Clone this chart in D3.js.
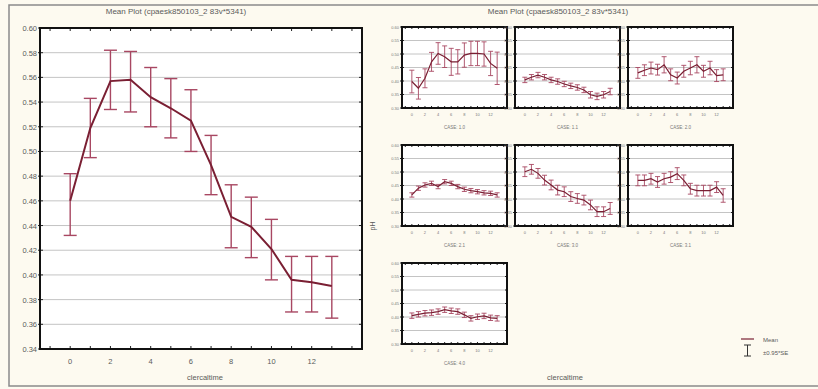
<!DOCTYPE html>
<html>
<head>
<meta charset="utf-8">
<script src="https://cdn.jsdelivr.net/npm/d3@7"></script>
<style>
  body { margin: 0; background: #fdfaf0; }
  svg { display: block; font-family: Arial, "Liberation Sans", sans-serif; }
</style>
</head>
<body>
<svg id="chart" width="818" height="389"></svg>
<script>
// time steps (x categories)
const steps = [0, 1, 2, 3, 4, 5, 6, 7, 8, 9, 10, 11, 12, 13];
const xTickLabels = [0, 2, 4, 6, 8, 10, 12];
const mainYTicks = [0.34, 0.36, 0.38, 0.40, 0.42, 0.44, 0.46, 0.48, 0.50, 0.52, 0.54, 0.56, 0.58, 0.60];

// pooled mean plot
const mainMean = [0.460, 0.519, 0.557, 0.558, 0.544, 0.535, 0.525, 0.489, 0.447, 0.439, 0.421, 0.396, 0.394, 0.391];
const mainLow  = [0.432, 0.495, 0.534, 0.532, 0.520, 0.511, 0.500, 0.465, 0.422, 0.414, 0.396, 0.370, 0.370, 0.365];
const mainHigh = [0.482, 0.543, 0.582, 0.581, 0.568, 0.559, 0.550, 0.513, 0.473, 0.463, 0.445, 0.415, 0.415, 0.415];

// per-case panels
const panelLabels = ["CASE: 1.0", "CASE: 1.1", "CASE: 2.0", "CASE: 2.1", "CASE: 3.0", "CASE: 3.1", "CASE: 4.0"];
const panelYTicks = [0.30, 0.35, 0.40, 0.45, 0.50, 0.55, 0.60];
const case1Mean = [0.398, 0.373, 0.410, 0.471, 0.502, 0.490, 0.471, 0.471, 0.496, 0.502, 0.502, 0.500, 0.465, 0.447];
const case1Err  = [0.042, 0.040, 0.035, 0.035, 0.040, 0.040, 0.050, 0.045, 0.045, 0.045, 0.045, 0.045, 0.045, 0.060];
const case2Mean = [0.404, 0.414, 0.422, 0.414, 0.404, 0.398, 0.389, 0.382, 0.376, 0.367, 0.349, 0.343, 0.349, 0.361];
const case2Err  = [0.010, 0.010, 0.010, 0.010, 0.010, 0.010, 0.010, 0.010, 0.010, 0.010, 0.012, 0.012, 0.012, 0.012];
const case3Mean = [0.430, 0.440, 0.448, 0.442, 0.460, 0.423, 0.411, 0.436, 0.448, 0.460, 0.436, 0.448, 0.420, 0.423];
const case3Err  = [0.020, 0.020, 0.022, 0.020, 0.030, 0.022, 0.022, 0.022, 0.025, 0.030, 0.022, 0.025, 0.022, 0.022];
const case4Mean = [0.415, 0.440, 0.452, 0.458, 0.446, 0.464, 0.458, 0.446, 0.436, 0.431, 0.427, 0.423, 0.421, 0.415];
const case4Err  = [0.008, 0.008, 0.008, 0.008, 0.008, 0.008, 0.008, 0.008, 0.008, 0.008, 0.008, 0.008, 0.008, 0.008];
const case5Mean = [0.501, 0.510, 0.495, 0.470, 0.452, 0.433, 0.427, 0.409, 0.402, 0.396, 0.378, 0.353, 0.353, 0.365];
const case5Err  = [0.018, 0.018, 0.018, 0.018, 0.018, 0.018, 0.018, 0.018, 0.018, 0.018, 0.018, 0.018, 0.018, 0.022];
const case6Mean = [0.469, 0.469, 0.475, 0.463, 0.475, 0.481, 0.494, 0.469, 0.438, 0.431, 0.431, 0.431, 0.444, 0.413];
const case6Err  = [0.020, 0.020, 0.020, 0.020, 0.020, 0.020, 0.022, 0.020, 0.020, 0.020, 0.020, 0.020, 0.020, 0.025];
const case7Mean = [0.405, 0.410, 0.414, 0.416, 0.420, 0.427, 0.423, 0.420, 0.408, 0.395, 0.401, 0.404, 0.397, 0.395];
const case7Err  = [0.010, 0.010, 0.010, 0.010, 0.010, 0.010, 0.010, 0.010, 0.010, 0.010, 0.010, 0.010, 0.010, 0.010];

const panelMeans = [case1Mean, case2Mean, case3Mean, case4Mean, case5Mean, case6Mean, case7Mean];
const panelErrs = [case1Err, case2Err, case3Err, case4Err, case5Err, case6Err, case7Err];

const lineColor = "#7a1f33";
const barColor = "#a84762";
const textColor = "#5a5a5a";

const svg = d3.select("#chart");

// outer frame
svg.append("rect")
  .attr("x", 9).attr("y", 5).attr("width", 812).attr("height", 381)
  .attr("fill", "#fdfaf0").attr("stroke", "#8a8a8a").attr("stroke-width", 1.5);

function drawFrame(g, x, y, yTicks) {
  const [x0, x1] = x.range();
  const [y0, y1] = y.range();
  g.append("rect")
    .attr("x", x0).attr("y", y1).attr("width", x1 - x0).attr("height", y0 - y1)
    .attr("fill", "#fff");
  g.append("g").selectAll("line")
    .data(yTicks)
    .enter()
    .append("line")
    .attr("x1", x0).attr("x2", x1)
    .attr("y1", d => y(d)).attr("y2", d => y(d))
    .attr("stroke", "#c4c4c4").attr("stroke-width", 1);
}

function drawBorder(g, x, y, yTicks, tickLen, thick) {
  const [x0, x1] = x.range();
  const [y0, y1] = y.range();
  const minor = d3.range(Math.ceil(x.domain()[0]), Math.floor(x.domain()[1]) + 1);
  const ticks = g.append("g").attr("stroke", "#222").attr("stroke-width", 1);
  minor.forEach(t => {
    ticks.append("line").attr("x1", x(t)).attr("x2", x(t)).attr("y1", y1).attr("y2", y1 + tickLen);
    ticks.append("line").attr("x1", x(t)).attr("x2", x(t)).attr("y1", y0).attr("y2", y0 - tickLen);
  });
  yTicks.forEach(t => {
    ticks.append("line").attr("x1", x0 - 2).attr("x2", x0 + tickLen).attr("y1", y(t)).attr("y2", y(t));
    ticks.append("line").attr("x1", x1).attr("x2", x1 - tickLen).attr("y1", y(t)).attr("y2", y(t));
  });
  g.append("rect")
    .attr("x", x0).attr("y", y1).attr("width", x1 - x0).attr("height", y0 - y1)
    .attr("fill", "none").attr("stroke", "#111").attr("stroke-width", thick);
}

function drawSeries(g, x, y, mean, low, high, cap, lw, bw) {
  const bars = g.append("g").attr("stroke", barColor).attr("stroke-width", bw).attr("fill", "none");
  steps.forEach((s, i) => {
    bars.append("line").attr("x1", x(s)).attr("x2", x(s)).attr("y1", y(low[i])).attr("y2", y(high[i]));
    bars.append("line").attr("x1", x(s) - cap).attr("x2", x(s) + cap).attr("y1", y(low[i])).attr("y2", y(low[i]));
    bars.append("line").attr("x1", x(s) - cap).attr("x2", x(s) + cap).attr("y1", y(high[i])).attr("y2", y(high[i]));
  });
  const line = d3.line().x((d, i) => x(steps[i])).y(d => y(d));
  g.append("path")
    .datum(mean)
    .attr("d", line)
    .attr("fill", "none")
    .attr("stroke", lineColor)
    .attr("stroke-width", lw);
}

// ---- left: pooled mean plot ----
const mx = d3.scaleLinear().domain([-1.5, 14.5]).range([40, 362]);
const my = d3.scaleLinear().domain([0.34, 0.60]).range([349, 28]);
const left = svg.append("g");

left.append("text")
  .attr("x", 176).attr("y", 14)
  .attr("text-anchor", "middle")
  .attr("font-size", 8).attr("fill", textColor)
  .text("Mean Plot (cpaesk850103_2 83v*5341)");

drawFrame(left, mx, my, mainYTicks);
drawSeries(left, mx, my, mainMean, mainLow, mainHigh, 6.5, 2, 1.4);
drawBorder(left, mx, my, mainYTicks, 3, 2);

left.append("g").selectAll("text")
  .data(mainYTicks)
  .enter()
  .append("text")
  .attr("x", 37).attr("y", d => my(d) + 3)
  .attr("text-anchor", "end")
  .attr("font-size", 7.5).attr("fill", textColor)
  .text(d => d3.format(".2f")(d));

left.append("g").selectAll("text")
  .data(xTickLabels)
  .enter()
  .append("text")
  .attr("x", d => mx(d)).attr("y", 364)
  .attr("text-anchor", "middle")
  .attr("font-size", 7.5).attr("fill", textColor)
  .text(d => d);

left.append("text")
  .attr("x", 205).attr("y", 380)
  .attr("text-anchor", "middle")
  .attr("font-size", 7.5).attr("fill", textColor)
  .text("clercaltime");

// ---- right: per-case panels ----
const right = svg.append("g");
right.append("text")
  .attr("x", 558).attr("y", 14)
  .attr("text-anchor", "middle")
  .attr("font-size", 8).attr("fill", textColor)
  .text("Mean Plot (cpaesk850103_2 83v*5341)");

const colX = [402, 515, 628];
const rowY = [27, 145, 263];
const pw = 105, ph = 81;

panelMeans.forEach((mean, k) => {
  const px = colX[k % 3], py = rowY[Math.floor(k / 3)];
  const x = d3.scaleLinear().domain([-1.5, 14.5]).range([px, px + pw]);
  const y = d3.scaleLinear().domain([0.30, 0.60]).range([py + ph, py]);
  const err = panelErrs[k];
  const low = mean.map((m, i) => m - err[i]);
  const high = mean.map((m, i) => m + err[i]);
  const g = right.append("g");
  drawFrame(g, x, y, panelYTicks);
  drawSeries(g, x, y, mean, low, high, 2.5, 1.2, 0.9);
  drawBorder(g, x, y, panelYTicks, 2, 2);

  g.append("g").selectAll("text")
    .data(panelYTicks)
    .enter()
    .append("text")
    .attr("x", px - 3).attr("y", d => y(d) + 1.5)
    .attr("text-anchor", "end")
    .attr("font-size", 4).attr("fill", "#777")
    .text(d => d3.format(".2f")(d));

  g.append("g").selectAll("text")
    .data(xTickLabels)
    .enter()
    .append("text")
    .attr("x", d => x(d)).attr("y", py + ph + 8)
    .attr("text-anchor", "middle")
    .attr("font-size", 4).attr("fill", "#777")
    .text(d => d);

  g.append("text")
    .attr("x", px + pw / 2).attr("y", py + ph + 21)
    .attr("text-anchor", "middle")
    .attr("font-size", 4.5).attr("fill", "#777")
    .text(panelLabels[k]);
});

right.append("text")
  .attr("transform", "translate(375,226) rotate(-90)")
  .attr("text-anchor", "middle")
  .attr("font-size", 7).attr("fill", textColor)
  .text("pH");

right.append("text")
  .attr("x", 565).attr("y", 380)
  .attr("text-anchor", "middle")
  .attr("font-size", 7.5).attr("fill", textColor)
  .text("clercaltime");

// legend
const lg = svg.append("g").attr("transform", "translate(741,337)");
lg.append("line").attr("x1", 0).attr("x2", 13).attr("y1", 2).attr("y2", 2)
  .attr("stroke", lineColor).attr("stroke-width", 1.2);
lg.append("line").attr("x1", 3).attr("x2", 10).attr("y1", 8).attr("y2", 8)
  .attr("stroke", "#333").attr("stroke-width", 1);
lg.append("line").attr("x1", 6.5).attr("x2", 6.5).attr("y1", 8).attr("y2", 19)
  .attr("stroke", "#333").attr("stroke-width", 1);
lg.append("line").attr("x1", 3).attr("x2", 10).attr("y1", 19).attr("y2", 19)
  .attr("stroke", "#333").attr("stroke-width", 1);
lg.append("text").attr("x", 22).attr("y", 5)
  .attr("font-size", 6).attr("fill", textColor).text("Mean");
lg.append("text").attr("x", 22).attr("y", 18)
  .attr("font-size", 6).attr("fill", textColor).text("±0.95*SE");
</script>
</body>
</html>
